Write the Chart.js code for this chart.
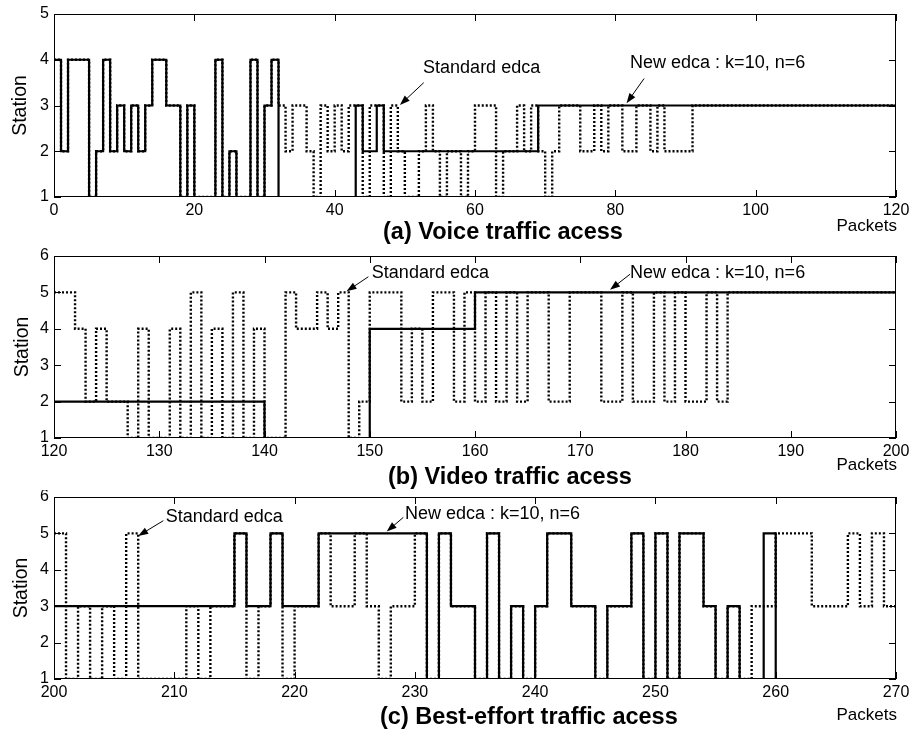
<!DOCTYPE html>
<html><head><meta charset="utf-8">
<script src="https://cdn.jsdelivr.net/npm/chart.js@4/dist/chart.umd.min.js"></script>
<style>
html,body{margin:0;padding:0;background:#fff;}
#wrap{position:relative;width:909px;height:729px;overflow:hidden;background:#fff;}
canvas{position:absolute;left:0;}
</style></head><body>
<div id="wrap">
<canvas id="ca" width="909" height="245" style="top:0px"></canvas>
<canvas id="cb" width="909" height="245" style="top:245px"></canvas>
<canvas id="cc" width="909" height="239" style="top:490px"></canvas>
</div>
<script>
// ---------- (a) Voice traffic: change points (packet where the value starts) ----------
const voiceNewX = [0,1,2,5,6,7,8,9,10,11,12,13,14,16,18,19,20,23,24,25,26,28,29,30,31,32,43,44,46,47,69,120];
const voiceNewY = [4,2,4,1,2,4,2,3,2,3,2,3,4,3,1,3,1,4,1,2,1,4,1,3,4,1,3,2,3,2,3,3];
const voiceStdX = [0,1,2,5,6,7,8,9,10,11,12,13,14,16,18,19,20,23,24,25,26,28,29,30,31,32,33,34,36,37,38,39,40,41,42,44,45,47,48,49,50,52,53,54,55,56,58,59,60,63,64,66,67,68,69,70,71,72,75,77,78,79,81,83,85,86,87,91,120];
const voiceStdY = [4,2,4,1,2,4,2,3,2,3,2,3,4,3,1,3,1,4,1,2,1,4,1,3,4,3,2,3,2,1,3,2,3,2,3,1,3,1,3,2,1,2,3,2,1,2,1,2,3,1,2,3,2,3,2,1,2,3,2,3,2,3,2,3,2,3,2,3,3];

// ---------- (b) Video traffic ----------
const videoNewX = [120,140,150,160,200];
const videoNewY = [2,1,4,5,5];
const videoStdX = [120,122,123,124,125,127,128,129,131,132,133,134,135,136,137,138,139,140,142,143,145,146,147,148,149,150,153,154,155,156,158,159,160,161,162,163,164,165,167,169,172,174,175,177,178,179,180,182,183,184,200];
const videoStdY = [5,4,2,4,2,1,4,1,4,1,5,1,4,1,5,1,4,1,5,4,5,4,5,1,2,5,2,4,2,5,2,5,2,5,2,5,2,5,2,5,2,5,2,5,2,5,2,5,2,5,5];

// ---------- (c) Best-effort traffic ----------
const beNewX = [200,215,216,218,219,222,231,232,233,235,236,237,238,239,240,241,243,245,246,248,249,250,251,252,254,255,256,257,259,260,270];
const beNewY = [3,5,3,5,3,5,1,5,3,1,5,1,3,1,3,5,3,1,3,5,1,5,1,5,3,1,3,1,5,1,1];
const beStdX = [200,201,202,203,204,205,206,207,211,212,213,215,216,217,218,219,220,222,223,225,226,227,228,230,231,232,233,235,236,237,238,239,240,241,243,245,246,248,249,250,251,252,254,255,256,257,258,260,263,266,267,268,269,270];
const beStdY = [5,1,3,1,3,1,5,1,3,1,3,5,1,3,5,1,3,5,3,5,3,1,3,5,1,5,3,1,5,1,3,1,3,5,3,1,3,5,1,5,1,5,3,1,3,1,3,5,3,5,3,5,3,3];

// ---------- axis ranges ----------
const voiceXRange = [0,120,20];  const voiceYRange = [1,5];
const videoXRange = [120,200,10]; const videoYRange = [1,6];
const beXRange = [200,270,10];   const beYRange = [1,6];

// ---------- texts ----------
const titles = ['(a) Voice traffic acess','(b) Video traffic acess','(c) Best-effort traffic acess'];
const stdLabel = 'Standard edca';
const newLabel = 'New edca : k=10, n=6';
const xLabel = 'Packets';
const yLabel = 'Station';

// annotation anchors in data units (text left/centre, arrow tail, arrow head)
const annA = [
  {text:stdLabel, tx:52.6, ty:3.81, ax:52.7, ay:3.50, hx:49.3, hy:3.01},
  {text:newLabel, tx:82.1, ty:3.92, ax:84.1, ay:3.59, hx:81.6, hy:3.05}
];
const annB = [
  {text:stdLabel, tx:150.2, ty:5.525, ax:149.87, ay:5.43, hx:147.8, hy:5.03},
  {text:newLabel, tx:174.73, ty:5.525, ax:174.73, ay:5.50, hx:172.83, hy:5.07}
];
const annC = [
  {text:stdLabel, tx:209.28, ty:5.437, ax:209.09, ay:5.35, hx:207.0, hy:4.93},
  {text:newLabel, tx:229.18, ty:5.53, ax:229.04, ay:5.44, hx:227.66, hy:5.05}
];

const FONT = '"Liberation Sans", Arial, Helvetica, sans-serif';

function pts(xs, ys){ return xs.map((x,i)=>({x:x, y:ys[i]})); }

function decoPlugin(cfg){
  return {
    id:'deco'+cfg.id,
    afterDraw(chart){
      const ctx = chart.ctx, a = chart.chartArea;
      const xs = chart.scales.x, ys = chart.scales.y;
      ctx.save();
      // frame
      ctx.strokeStyle = '#000'; ctx.lineWidth = 1;
      ctx.strokeRect(Math.round(a.left)+0.5, Math.round(a.top)+0.5, Math.round(a.right-a.left)-1, Math.round(a.bottom-a.top)-1);
      // inward ticks
      const TL = 7;
      ctx.beginPath();
      xs.ticks.forEach(t=>{
        const p = Math.round(xs.getPixelForValue(t.value))+0.5;
        ctx.moveTo(p, a.bottom); ctx.lineTo(p, a.bottom-TL);
        ctx.moveTo(p, a.top); ctx.lineTo(p, a.top+TL);
      });
      ys.ticks.forEach(t=>{
        const p = Math.round(ys.getPixelForValue(t.value))+0.5;
        ctx.moveTo(a.left, p); ctx.lineTo(a.left+TL, p);
        ctx.moveTo(a.right, p); ctx.lineTo(a.right-TL, p);
      });
      ctx.stroke();
      // annotations
      ctx.fillStyle = '#000';
      ctx.font = '18px ' + FONT;
      ctx.textAlign = 'left'; ctx.textBaseline = 'middle';
      cfg.ann.forEach(n=>{
        ctx.fillText(n.text, xs.getPixelForValue(n.tx), ys.getPixelForValue(n.ty));
        const x1 = xs.getPixelForValue(n.ax), y1 = ys.getPixelForValue(n.ay);
        const x2 = xs.getPixelForValue(n.hx), y2 = ys.getPixelForValue(n.hy);
        const ang = Math.atan2(y2-y1, x2-x1);
        const L = 10, W = 3.6;
        ctx.beginPath(); ctx.lineWidth = 1;
        ctx.moveTo(x1,y1); ctx.lineTo(x2 - Math.cos(ang)*L*0.8, y2 - Math.sin(ang)*L*0.8); ctx.stroke();
        ctx.beginPath();
        ctx.moveTo(x2,y2);
        ctx.lineTo(x2 - Math.cos(ang)*L - Math.sin(ang)*W, y2 - Math.sin(ang)*L + Math.cos(ang)*W);
        ctx.lineTo(x2 - Math.cos(ang)*L + Math.sin(ang)*W, y2 - Math.sin(ang)*L - Math.cos(ang)*W);
        ctx.closePath(); ctx.fill();
      });
      // panel title
      ctx.font = 'bold 23.5px ' + FONT;
      ctx.textAlign = 'left'; ctx.textBaseline = 'alphabetic';
      ctx.fillText(cfg.title, cfg.titleX, cfg.titleY);
      // x label
      ctx.font = '17px ' + FONT;
      ctx.textAlign = 'right';
      ctx.fillText(xLabel, 897, cfg.packY);
      // y label
      ctx.save();
      ctx.translate(cfg.stX, (a.top+a.bottom)/2);
      ctx.rotate(-Math.PI/2);
      ctx.font = '19.5px ' + FONT;
      ctx.textAlign = 'center'; ctx.textBaseline = 'alphabetic';
      ctx.fillText(yLabel, 0, 0);
      ctx.restore();
      ctx.restore();
    }
  };
}

function makeChart(cfg){
  const tickFont = {family: FONT, size: 16};
  return new Chart(document.getElementById(cfg.id), {
    type:'line',
    data:{datasets:[
      {label:stdLabel, data:pts(cfg.stdX, cfg.stdY), borderColor:'#000', borderWidth:2.4, borderDash:[2,2],
       stepped:true, pointRadius:0, fill:false, order:0},
      {label:newLabel, data:pts(cfg.newX, cfg.newY), borderColor:'#000', borderWidth:2.2,
       stepped:true, pointRadius:0, fill:false, order:1}
    ]},
    options:{
      responsive:false, animation:false, devicePixelRatio:1,
      layout:{padding:{top:cfg.padTop, right:13, left:0, bottom:0}},
      plugins:{legend:{display:false}, tooltip:{enabled:false}, title:{display:false}},
      scales:{
        x:{type:'linear', min:cfg.xr[0], max:cfg.xr[1],
           ticks:{stepSize:cfg.xr[2], font:tickFont, color:'#000', padding:4, maxRotation:0, autoSkip:false},
           grid:{display:false, drawTicks:false}, border:{display:false},
           afterFit(s){ s.height = cfg.xAxisH; s.paddingLeft = 0; s.paddingRight = 0; }},
        y:{type:'linear', min:cfg.yr[0], max:cfg.yr[1],
           ticks:{stepSize:1, font:tickFont, color:'#000', padding:5},
           grid:{display:false, drawTicks:false}, border:{display:false},
           afterFit(s){ s.width = 54; s.paddingTop = 0; s.paddingBottom = 0; }}
      }
    },
    plugins:[decoPlugin(cfg)]
  });
}

makeChart({id:'ca', stdX:voiceStdX, stdY:voiceStdY, newX:voiceNewX, newY:voiceNewY,
  xr:voiceXRange, yr:voiceYRange, padTop:14, xAxisH:48, ann:annA,
  title:titles[0], titleX:383, titleY:238.8, packY:231, stX:25.5});
makeChart({id:'cb', stdX:videoStdX, stdY:videoStdY, newX:videoNewX, newY:videoNewY,
  xr:videoXRange, yr:videoYRange, padTop:11, xAxisH:52, ann:annB,
  title:titles[1], titleX:388, titleY:238.8, packY:225, stX:28});
makeChart({id:'cc', stdX:beStdX, stdY:beStdY, newX:beNewX, newY:beNewY,
  xr:beXRange, yr:beYRange, padTop:7, xAxisH:50, ann:annC,
  title:titles[2], titleX:380, titleY:233.8, packY:230, stX:27});
</script>
</body></html>
